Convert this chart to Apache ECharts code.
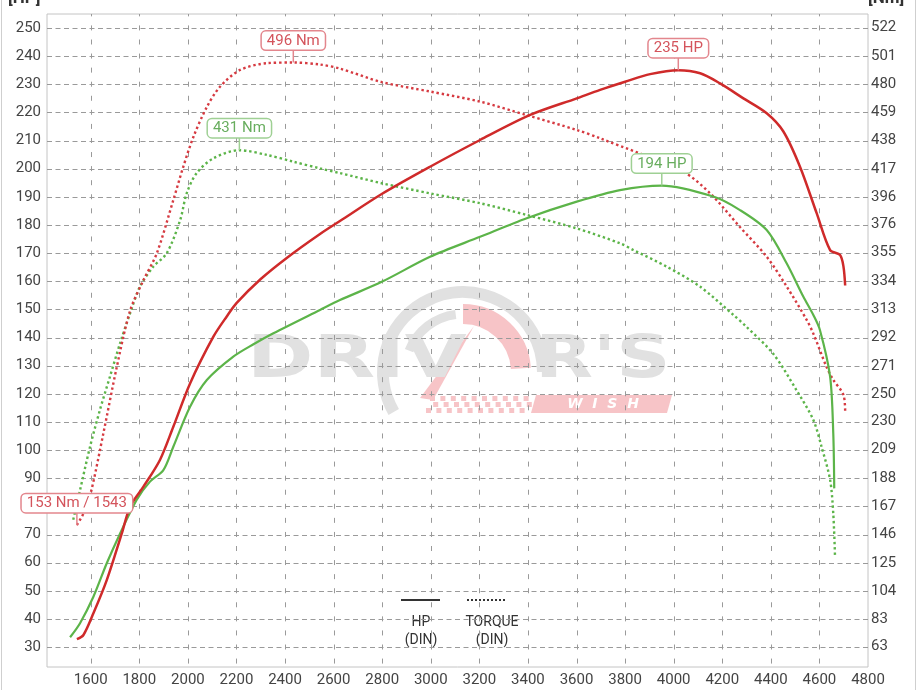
<!DOCTYPE html>
<html>
<head>
<meta charset="utf-8">
<script src="https://cdn.jsdelivr.net/npm/echarts@6/dist/echarts.min.js"></script>
<style>html,body{margin:0;padding:0;background:#fff}#c{width:919px;height:690px}</style>
</head>
<body>
<div id="c"></div>
<script>
// ---- tick labels ----
const rpmTicks = [1600,1800,2000,2200,2400,2600,2800,3000,3200,3400,3600,3800,4000,4200,4400,4600,4800];
const hpTicks = [30,40,50,60,70,80,90,100,110,120,130,140,150,160,170,180,190,200,210,220,230,240,250];
const nmTicks = [63,83,104,125,146,167,188,209,230,250,271,292,313,334,355,376,396,417,438,459,480,501,522];

// ---- HP (red) ----
const redHpRpm = [1543,1570,1611,1666,1728,1762,1817,1885,1940,2009,2105,2160,2201,2300,2407,2544,2626,2798,2997,3203,3409,3601,3697,3800,3903,4019,4109,4191,4287,4383,4451,4520,4589,4644,4685,4699,4706];
const redHp    = [32.8,34.3,42.0,53.8,70.4,79.9,87.0,96.5,108.3,123.7,140.3,147.5,152.3,160.8,168.3,176.8,181.4,191.0,200.7,210.2,219.1,225.0,228.0,230.9,233.6,235,233.9,230.3,225.0,219.7,213.3,200.7,184.1,171.1,169.3,165.2,158.5];

// ---- HP (green) ----
const greenHpRpm = [1515,1556,1611,1666,1721,1789,1844,1899,1940,2009,2078,2187,2270,2352,2544,2626,2798,2997,3203,3395,3601,3779,3951,4163,4273,4383,4465,4534,4575,4602,4644,4657,4661];
const greenHp    = [33.5,38.5,47.9,59.8,70.4,82.3,88.8,92.9,101.2,115.4,124.9,133.2,137.6,141.5,149.8,153.3,159.8,168.7,175.8,182.4,188.3,192.4,194,190.1,185.3,178.2,166.4,154.5,148,142.7,126.1,106.0,86.4];

// ---- Torque Nm (red) ----
const redTqRpm = [1543,1570,1600,1652,1707,1762,1817,1872,1940,1981,2023,2078,2132,2215,2325,2434,2544,2626,2798,2997,3203,3395,3601,3697,4039,4150,4273,4383,4465,4548,4575,4630,4657,4699,4706];
const redTq    = [153,161.7,176.8,221,270,312,334.6,354.5,394,418.7,441,463,478,490.5,495.5,496,494.5,491.5,481.5,474.5,467,457,446,439.8,415,399,374,352,330,305,295,270,260.7,249.6,237];

// ---- Torque Nm (green) ----
const greenTqRpm = [1528,1556,1597,1638,1679,1721,1762,1803,1858,1913,1968,1995,2036,2105,2212,2325,2434,2544,2626,2798,2997,3203,3395,3601,3779,3834,3971,4108,4245,4300,4410,4506,4575,4609,4644,4657,4664];
const greenTq    = [157,179,211,238.5,263,288,310,330,344.7,354.6,379,399,414,425,431,427.5,422.5,417.5,414,406.5,399,391.7,383,373,362,357,344.7,329.9,309,300,280,253,231,211,186.6,161.7,130.8];

// ---- annotations [rpm, value] ----
const redHpPeak = [4019, 235];
const greenHpPeak = [3951, 194];
const redTqPeak = [2434, 496];
const greenTqPeak = [2212, 431];
const redTqStart = [1543, 153];

const NM_PER_HP = 2.0864;
const HP_MIN = 22.93, HP_MAX = 254.97;
const RPM_MIN = 1420, RPM_MAX = 4800;

const zip = (a, b) => a.map((v, i) => [v, b[i]]);

const RED = '#cf2a2a', GREEN = '#5cb449';
const RED_LBL = '#d4545c', RED_BORDER = '#e3868d';
const GREEN_LBL = '#68ad5e', GREEN_BORDER = '#9fd094';
const GRID_COLOR = '#9a9a9a';

function pin(coord, text, textColor, borderColor) {
  return {
    coord: coord,
    symbol: 'rect', symbolSize: [1.5, 13], symbolOffset: [0, -6.5],
    itemStyle: { color: borderColor },
    label: {
      show: true, position: 'top', distance: 0, formatter: text,
      color: textColor, fontSize: 15, fontFamily: 'Roboto',
      backgroundColor: '#fff', borderColor: borderColor, borderWidth: 1.5,
      borderRadius: 4, padding: [2, 5, 1, 5]
    }
  };
}

// watermark pieces (decoration)
const wm = [];
const GRAY = '#e1e1e1', PINK = '#f7c4c7';
wm.push({ type: 'arc', z: -5, shape: { cx: 463, cy: 372, r: 80, startAngle: Math.PI * 150 / 180, endAngle: Math.PI * 2.0, clockwise: true }, style: { stroke: GRAY, lineWidth: 12, fill: null } });
wm.push({ type: 'arc', z: -5, shape: { cx: 463, cy: 372, r: 58, startAngle: Math.PI * 1.5, endAngle: Math.PI * 1.98, clockwise: true }, style: { stroke: PINK, lineWidth: 20, fill: null } });
wm.push({ type: 'arc', z: -5, shape: { cx: 463, cy: 372, r: 58, startAngle: Math.PI * 1.12, endAngle: Math.PI * 1.46, clockwise: true }, style: { stroke: GRAY, lineWidth: 9, fill: null } });
wm.push({ type: 'polygon', z: -5, shape: { points: [[420, 398], [474, 326], [433, 400]] }, style: { fill: PINK } });
wm.push({ type: 'text', z: -5, x: 247, y: 391, scaleX: 1.38, style: { text: 'DRIV', x: 0, y: 0, fill: GRAY, font: 'bold 58px "DejaVu Sans"', verticalAlign: 'bottom' } });
wm.push({ type: 'text', z: -5, x: 535, y: 391, scaleX: 1.3, style: { text: "R'S", x: 0, y: 0, fill: GRAY, font: 'bold 58px "DejaVu Sans"', verticalAlign: 'bottom' } });
wm.push({ type: 'polygon', z: -5, shape: { points: [[536, 395], [672, 395], [667, 413], [531, 413]] }, style: { fill: PINK } });
wm.push({ type: 'text', z: -5, x: 603, y: 404, style: { text: 'W  I  S  H', x: 0, y: 0, fill: '#fff', font: 'bold italic 14px "DejaVu Sans"', align: 'center', verticalAlign: 'middle' } });
for (let c = 0; c < 20; c++) {
  for (let r = 0; r < 3; r++) {
    if ((c + r) % 2 === 0) {
      wm.push({ type: 'rect', z: -5, shape: { x: 430 + c * 5.2 - r * 2, y: 396 + r * 6, width: 5, height: 5 }, style: { fill: PINK } });
    }
  }
}

const axisLabelStyle = { color: '#444', fontSize: 15, fontFamily: 'Roboto' };

const baseGraphic = [
  { type: 'text', x: 8, y: 7, style: { text: '[HP]', fill: '#333', font: 'bold 17px Roboto', verticalAlign: 'bottom' } },
  { type: 'text', x: 868, y: 7, style: { text: '[Nm]', fill: '#333', font: 'bold 17px Roboto', verticalAlign: 'bottom' } },
  { type: 'line', shape: { x1: 1.5, y1: 0, x2: 1.5, y2: 690 }, style: { stroke: '#cfcfcf', lineWidth: 1 } },
  { type: 'line', shape: { x1: 915.5, y1: 0, x2: 915.5, y2: 690 }, style: { stroke: '#cfcfcf', lineWidth: 1 } },
  // legend
  { type: 'line', shape: { x1: 401, y1: 600, x2: 440, y2: 600 }, style: { stroke: '#333', lineWidth: 2 } },
  { type: 'line', shape: { x1: 467, y1: 600, x2: 507, y2: 600 }, style: { stroke: '#333', lineWidth: 2, lineDash: [2, 2] } },
  { type: 'text', x: 421, y: 622, style: { text: 'HP', fill: '#333', font: '14px Roboto', align: 'center', verticalAlign: 'middle' } },
  { type: 'text', x: 421, y: 640, style: { text: '(DIN)', fill: '#333', font: '14px Roboto', align: 'center', verticalAlign: 'middle' } },
  { type: 'text', x: 492, y: 622, style: { text: 'TORQUE', fill: '#333', font: '14px Roboto', align: 'center', verticalAlign: 'middle' } },
  { type: 'text', x: 492, y: 640, style: { text: '(DIN)', fill: '#333', font: '14px Roboto', align: 'center', verticalAlign: 'middle' } }
].concat(wm);

const chart = echarts.init(document.getElementById('c'), null, { renderer: 'canvas' });
chart.setOption({
  animation: false,
  backgroundColor: '#fff',
  grid: { left: 47, right: 51, top: 14, bottom: 23, show: true, borderColor: '#c4c4c4', borderWidth: 1 },
  xAxis: {
    type: 'value', min: RPM_MIN, max: RPM_MAX,
    axisLine: { show: false }, axisTick: { show: false, customValues: rpmTicks },
    axisLabel: Object.assign({ customValues: rpmTicks, margin: 6, formatter: v => String(v) }, axisLabelStyle),
    splitLine: { show: false }
  },
  yAxis: [
    {
      type: 'value', min: HP_MIN, max: HP_MAX, position: 'left',
      axisLine: { show: false }, axisTick: { show: false, customValues: hpTicks },
      axisLabel: Object.assign({ customValues: hpTicks, margin: 6, formatter: v => String(v) }, axisLabelStyle),
      splitLine: { show: false }
    },
    {
      type: 'value', min: HP_MIN * NM_PER_HP, max: HP_MAX * NM_PER_HP, position: 'right',
      axisLine: { show: false }, axisTick: { show: false, customValues: nmTicks },
      axisLabel: Object.assign({ customValues: nmTicks, margin: 3, formatter: v => String(v) }, axisLabelStyle),
      splitLine: { show: false }
    }
  ],
  graphic: baseGraphic,
  series: [
    {
      type: 'line', name: 'Torque green', yAxisIndex: 1, data: zip(greenTqRpm, greenTq),
      showSymbol: false, smooth: 0.3, z: 2,
      lineStyle: { color: GREEN, width: 2.4, type: [2.4, 2.8] },
      markPoint: { data: [pin(greenTqPeak, '431 Nm', GREEN_LBL, GREEN_BORDER)] }
    },
    {
      type: 'line', name: 'Torque red', yAxisIndex: 1, data: zip(redTqRpm, redTq),
      showSymbol: false, smooth: 0.3, z: 2,
      lineStyle: { color: '#d63a41', width: 2.4, type: [2.4, 2.8] },
      markPoint: { data: [pin(redTqPeak, '496 Nm', RED_LBL, RED_BORDER), pin(redTqStart, '153 Nm / 1543', RED_LBL, RED_BORDER)] }
    },
    {
      type: 'line', name: 'HP green', yAxisIndex: 0, data: zip(greenHpRpm, greenHp),
      showSymbol: false, smooth: 0.3, z: 3,
      lineStyle: { color: GREEN, width: 2.2 },
      markPoint: { data: [pin(greenHpPeak, '194 HP', GREEN_LBL, GREEN_BORDER)] }
    },
    {
      type: 'line', name: 'HP red', yAxisIndex: 0, data: zip(redHpRpm, redHp),
      showSymbol: false, smooth: 0.3, z: 3,
      lineStyle: { color: RED, width: 2.5 },
      markPoint: { data: [pin(redHpPeak, '235 HP', RED_LBL, RED_BORDER)] }
    }
  ]
});

// dashed grid lines positioned through the chart's own axis scales
(function () {
  const px = v => chart.convertToPixel({ xAxisIndex: 0 }, v);
  const py = v => chart.convertToPixel({ yAxisIndex: 0 }, v);
  const gLeft = px(RPM_MIN), gRight = px(RPM_MAX);
  const gBottom = py(HP_MIN), gTop = py(HP_MAX);
  const gridGraphic = [];
  rpmTicks.filter(v => v < RPM_MAX).forEach(v => {
    const x = Math.round(px(v)) + 0.5;
    gridGraphic.push({ type: 'line', z: 0, silent: true, shape: { x1: x, y1: gBottom, x2: x, y2: gTop },
      style: { stroke: GRID_COLOR, lineWidth: 1, lineDash: [5, 9.07], lineDashOffset: 10.64 } });
  });
  hpTicks.forEach(v => {
    const y = Math.round(py(v)) + 0.5;
    gridGraphic.push({ type: 'line', z: 0, silent: true, shape: { x1: gLeft, y1: y, x2: gRight, y2: y },
      style: { stroke: GRID_COLOR, lineWidth: 1, lineDash: [5, 3.5] } });
  });
  chart.setOption({ graphic: baseGraphic.concat(gridGraphic) });
})();
</script>
</body>
</html>
